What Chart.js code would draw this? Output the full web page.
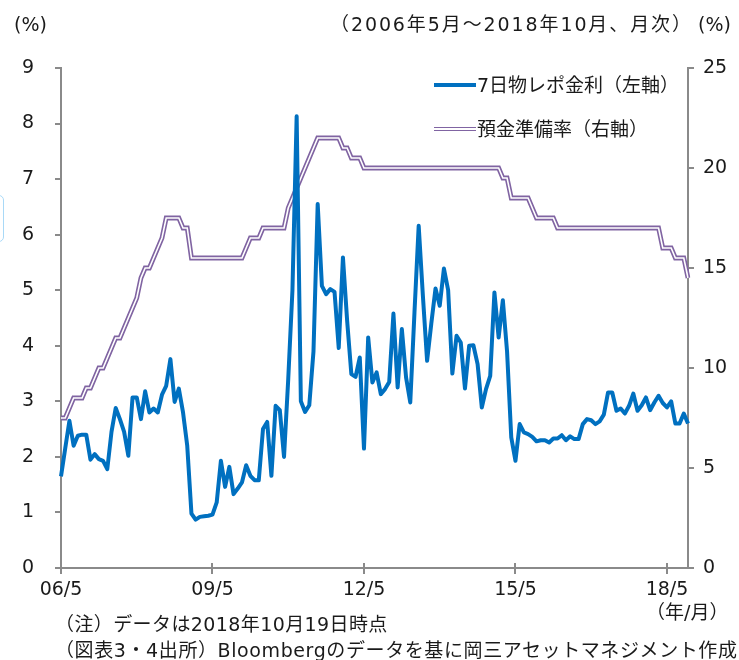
<!DOCTYPE html>
<html lang="ja">
<head>
<meta charset="utf-8">
<title>7日物レポ金利と預金準備率</title>
<script src="https://cdn.jsdelivr.net/npm/chart.js@4.4.1/dist/chart.umd.min.js"></script>
<style>
  html, body { margin: 0; padding: 0; background: #fff; }
  #wrap { position: relative; width: 739px; height: 660px; overflow: hidden; background: #fff; }
  #c { position: absolute; left: 0; top: 0; }
  .t { position: absolute; font-family: "DejaVu Sans", "Noto Sans CJK JP", sans-serif; font-size: 19px; line-height: 22px; color: #1a1a1a; white-space: nowrap; }
  .leg-line { position: absolute; width: 42px; }
  .leg-blue { height: 4px; background: #0070C0; }
  .leg-purple { height: 2px; background: #fff; border-top: 1.6px solid #8064A2; border-bottom: 1.6px solid #8064A2; }
  .edge { position: absolute; left: -20px; top: 195px; width: 22px; height: 45px; border: 1.5px solid #a9d9f7; border-radius: 5px; }
</style>
</head>
<body>
<div id="wrap">
  <canvas id="c" width="739" height="660"></canvas>
  <div class="edge"></div>
  <div class="t" style="left:14px; top:13px;">(%)</div>
  <div class="t" style="left:330px; top:13px; letter-spacing:1.9px;">（2006年5月～2018年10月、月次）</div>
  <div class="t" style="left:698px; top:13px;">(%)</div>
  <div class="leg-line leg-blue" style="left:434px; top:83px;"></div>
  <div class="t" style="left:477px; top:74px;">7日物レポ金利（左軸）</div>
  <div class="leg-line leg-purple" style="left:434px; top:127px;"></div>
  <div class="t" style="left:477px; top:118px;">預金準備率（右軸）</div>
  <div class="t" style="left:646px; top:601px;">（年/月）</div>
  <div class="t" style="left:55px; top:613px; letter-spacing:0.4px;">（注）データは2018年10月19日時点</div>
  <div class="t" style="left:55px; top:639px; letter-spacing:0.6px;">（図表3・4出所）Bloombergのデータを基に岡三アセットマネジメント作成</div>
</div>
<script>
// Monthly categories, May 2006 - October 2018
const months = [
  '06/5','06/6','06/7','06/8','06/9','06/10','06/11','06/12',
  '07/1','07/2','07/3','07/4','07/5','07/6','07/7','07/8','07/9','07/10','07/11','07/12',
  '08/1','08/2','08/3','08/4','08/5','08/6','08/7','08/8','08/9','08/10','08/11','08/12',
  '09/1','09/2','09/3','09/4','09/5','09/6','09/7','09/8','09/9','09/10','09/11','09/12',
  '10/1','10/2','10/3','10/4','10/5','10/6','10/7','10/8','10/9','10/10','10/11','10/12',
  '11/1','11/2','11/3','11/4','11/5','11/6','11/7','11/8','11/9','11/10','11/11','11/12',
  '12/1','12/2','12/3','12/4','12/5','12/6','12/7','12/8','12/9','12/10','12/11','12/12',
  '13/1','13/2','13/3','13/4','13/5','13/6','13/7','13/8','13/9','13/10','13/11','13/12',
  '14/1','14/2','14/3','14/4','14/5','14/6','14/7','14/8','14/9','14/10','14/11','14/12',
  '15/1','15/2','15/3','15/4','15/5','15/6','15/7','15/8','15/9','15/10','15/11','15/12',
  '16/1','16/2','16/3','16/4','16/5','16/6','16/7','16/8','16/9','16/10','16/11','16/12',
  '17/1','17/2','17/3','17/4','17/5','17/6','17/7','17/8','17/9','17/10','17/11','17/12',
  '18/1','18/2','18/3','18/4','18/5','18/6','18/7','18/8','18/9','18/10'
];

// Labelled ticks on the time axis
const tickLabels = ['06/5', '09/5', '12/5', '15/5', '18/5'];

// 7-day repo rate (%), left axis
const repoRate = [
  1.65, 2.15, 2.65, 2.20, 2.38, 2.40, 2.40, 1.95,
  2.05, 1.96, 1.93, 1.78, 2.45, 2.88, 2.68, 2.45, 2.02, 3.07, 3.07, 2.68,
  3.18, 2.80, 2.87, 2.80, 3.12, 3.28, 3.76, 2.99, 3.23, 2.80, 2.20, 0.98,
  0.87, 0.92, 0.93, 0.94, 0.96, 1.18, 1.93, 1.46, 1.82, 1.33, 1.43, 1.54,
  1.85, 1.66, 1.58, 1.58, 2.50, 2.63, 1.66, 2.92, 2.84, 2.00, 3.40, 5.00,
  8.13, 3.00, 2.81, 2.93, 3.90, 6.55, 5.08, 4.93, 5.02, 4.97, 3.96, 5.59,
  4.45, 3.49, 3.44, 3.79, 2.15, 4.15, 3.34, 3.52, 3.13, 3.22, 3.35, 4.58,
  3.25, 4.30, 3.43, 2.98, 4.60, 6.16, 4.90, 3.73, 4.40, 5.03, 4.72, 5.39,
  5.00, 3.50, 4.18, 4.06, 3.23, 4.00, 4.01, 3.67, 2.89, 3.22, 3.46, 4.96,
  4.15, 4.82, 3.90, 2.35, 1.93, 2.59, 2.44, 2.41, 2.36, 2.28, 2.30, 2.30,
  2.26, 2.33, 2.33, 2.39, 2.30, 2.37, 2.32, 2.32, 2.59, 2.68, 2.66, 2.59,
  2.64, 2.76, 3.16, 3.16, 2.83, 2.87, 2.78, 2.92, 3.14, 2.83, 2.93, 3.07,
  2.84, 2.98, 3.10, 2.97, 2.89, 3.00, 2.60, 2.60, 2.78, 2.60
];

// Reserve requirement ratio (%), right axis
const reserveRatio = [
  7.5, 7.5, 8, 8.5, 8.5, 8.5, 9, 9,
  9.5, 10, 10, 10.5, 11, 11.5, 11.5, 12, 12.5, 13, 13.5, 14.5,
  15, 15, 15.5, 16, 16.5, 17.5, 17.5, 17.5, 17.5, 17, 17, 15.5,
  15.5, 15.5, 15.5, 15.5, 15.5, 15.5, 15.5, 15.5, 15.5, 15.5, 15.5, 15.5,
  16, 16.5, 16.5, 16.5, 17, 17, 17, 17, 17, 17, 18, 18.5,
  19, 19.5, 20, 20.5, 21, 21.5, 21.5, 21.5, 21.5, 21.5, 21.5, 21,
  21, 20.5, 20.5, 20.5, 20, 20, 20, 20, 20, 20, 20, 20,
  20, 20, 20, 20, 20, 20, 20, 20, 20, 20, 20, 20,
  20, 20, 20, 20, 20, 20, 20, 20, 20, 20, 20, 20,
  20, 19.5, 19.5, 18.5, 18.5, 18.5, 18.5, 18.5, 18, 17.5, 17.5, 17.5,
  17.5, 17.5, 17, 17, 17, 17, 17, 17, 17, 17, 17, 17,
  17, 17, 17, 17, 17, 17, 17, 17, 17, 17, 17, 17,
  17, 17, 17, 16, 16, 16, 15.5, 15.5, 15.5, 14.5
];

const FONT = { family: '"DejaVu Sans", "Noto Sans CJK JP", sans-serif', size: 19 };
const AXIS = '#8a8a8a';
const TEXT = '#1a1a1a';

// Short tick marks that cross the time axis upward as well
const crossTicks = {
  id: 'crossTicks',
  afterDraw(chart) {
    const x = chart.scales.x;
    const ctx = chart.ctx;
    ctx.save();
    ctx.strokeStyle = AXIS;
    ctx.lineWidth = 2;
    x.ticks.forEach((t) => {
      if (!tickLabels.includes(months[t.value])) return;
      const px = Math.round(x.getPixelForValue(t.value));
      ctx.beginPath();
      ctx.moveTo(px, x.top - 5);
      ctx.lineTo(px, x.top);
      ctx.stroke();
    });
    ctx.restore();
  }
};

new Chart(document.getElementById('c'), {
  type: 'line',
  data: {
    labels: months,
    datasets: [
      {
        label: '7日物レポ金利（左軸）',
        data: repoRate,
        yAxisID: 'yL',
        borderColor: '#0070C0',
        borderWidth: 4,
        pointRadius: 0,
        tension: 0,
        borderJoinStyle: 'round',
        order: 0
      },
      {
        label: '預金準備率（右軸）',
        data: reserveRatio,
        yAxisID: 'yR',
        borderColor: '#ffffff',
        borderWidth: 1.6,
        pointRadius: 0,
        tension: 0,
        order: 1
      },
      {
        label: '預金準備率（右軸）',
        data: reserveRatio,
        yAxisID: 'yR',
        borderColor: '#8064A2',
        borderWidth: 4.8,
        pointRadius: 0,
        tension: 0,
        order: 2
      }
    ]
  },
  options: {
    responsive: false,
    animation: false,
    devicePixelRatio: 1,
    layout: { padding: { top: 68, left: 0, right: 0, bottom: 0 } },
    plugins: { legend: { display: false }, tooltip: { enabled: false } },
    scales: {
      x: {
        type: 'category',
        offset: false,
        border: { display: true, color: AXIS, width: 2 },
        grid: {
          display: true,
          drawOnChartArea: false,
          drawTicks: true,
          tickLength: 6,
          lineWidth: 2,
          color: (c) => (c.tick && tickLabels.includes(months[c.tick.value])) ? AXIS : 'rgba(0,0,0,0)'
        },
        ticks: {
          autoSkip: false,
          maxRotation: 0,
          minRotation: 0,
          padding: 5,
          color: TEXT,
          font: FONT,
          callback: (v) => tickLabels.includes(months[v]) ? months[v] : null
        },
        afterFit: (s) => { s.height = 92; }
      },
      yL: {
        position: 'left',
        min: 0,
        max: 9,
        border: { display: true, color: AXIS, width: 2 },
        grid: { drawOnChartArea: false, drawTicks: true, tickLength: 6, color: AXIS, lineWidth: 2 },
        ticks: { stepSize: 1, padding: 21, color: TEXT, font: FONT },
        afterFit: (s) => { s.width = 61; }
      },
      yR: {
        position: 'right',
        min: 0,
        max: 25,
        border: { display: true, color: AXIS, width: 2 },
        grid: { drawOnChartArea: false, drawTicks: true, tickLength: 6, color: AXIS, lineWidth: 2 },
        ticks: { stepSize: 5, padding: 9, color: TEXT, font: FONT },
        afterFit: (s) => { s.width = 51; }
      }
    }
  },
  plugins: [crossTicks]
});
</script>
</body>
</html>
